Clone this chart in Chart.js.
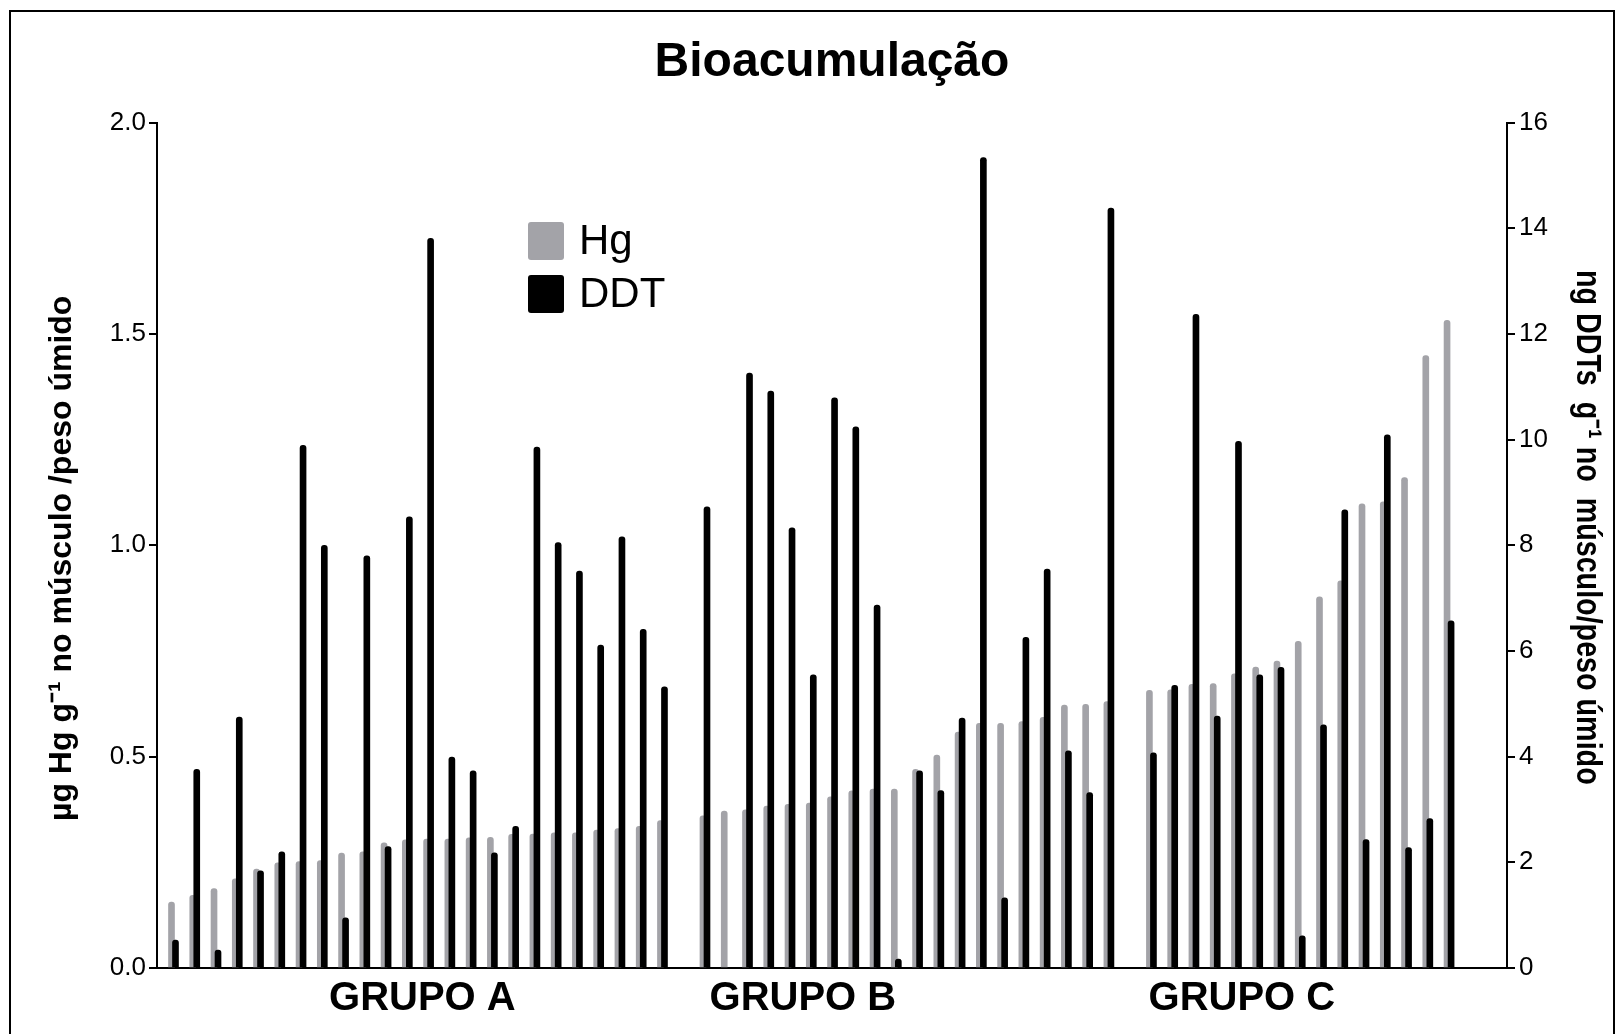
<!DOCTYPE html>
<html>
<head>
<meta charset="utf-8">
<script src="https://cdn.jsdelivr.net/npm/chart.js@4.4.1/dist/chart.umd.min.js"></script>
<style>
html, body { margin: 0; padding: 0; background: #ffffff; }
#wrap { width: 1616px; height: 1034px; position: relative; }
</style>
</head>
<body>
<div id="wrap"><canvas id="c" width="1616" height="1034"></canvas></div>
<script>
// ---------- data ----------
const chartTitle = 'Bioacumulação';
const seriesNames = ['Hg', 'DDT'];
const groupLabels = ['GRUPO A', 'GRUPO B', 'GRUPO C'];
const leftTicks = [0, 0.5, 1.0, 1.5, 2.0];
const rightTicks = [0, 2, 4, 6, 8, 10, 12, 14, 16];
const leftTitle = 'µg Hg g⁻¹ no músculo /peso úmido';
const rightTitle = 'ng DDTs  g⁻¹ no  músculo/peso úmido';

// Hg (µg/g, left axis)
const hgA = [0.156, 0.172, 0.188, 0.211, 0.234, 0.249, 0.252, 0.254, 0.272, 0.275, 0.296, 0.303,
             0.305, 0.305, 0.308, 0.309, 0.316, 0.317, 0.320, 0.320, 0.326, 0.330, 0.335, 0.349];
const hgB = [0.360, 0.371, 0.374, 0.383, 0.387, 0.390, 0.405, 0.419, 0.423, 0.423,
             0.470, 0.504, 0.558, 0.579, 0.579, 0.583, 0.593, 0.622, 0.624, 0.630];
const hgC = [0.657, 0.658, 0.671, 0.673, 0.696, 0.712, 0.726, 0.773, 0.878, 0.916,
             1.098, 1.103, 1.160, 1.449, 1.532];

// DDT (ng/g, right axis)
const ddtA = [0.53, 3.76, 0.34, 4.75, 1.84, 2.20, 9.89, 8.00, 0.95, 7.80, 2.30, 8.54,
              13.81, 3.99, 3.73, 2.18, 2.68, 9.86, 8.05, 7.51, 6.11, 8.16, 6.41, 5.32];
const ddtB = [8.73, null, 11.26, 10.92, 8.33, 5.55, 10.79, 10.24, 6.87, 0.17,
              3.73, 3.36, 4.73, 15.34, 1.33, 6.26, 7.55, 4.11, 3.32, 14.38];
const ddtC = [4.07, 5.35, 12.37, 4.77, 9.97, 5.55, 5.69, 0.61, 4.60, 8.67,
              2.43, 10.09, 2.28, 2.83, 6.57];

// ---------- build slot-indexed points (one empty slot between groups) ----------
const hgGroups = [hgA, hgB, hgC];
const ddtGroups = [ddtA, ddtB, ddtC];
const hgPts = [], ddtPts = [];
let slot = 0;
hgGroups.forEach((g, gi) => {
  g.forEach((v, k) => {
    hgPts.push({ x: slot, y: v });
    ddtPts.push({ x: slot, y: ddtGroups[gi][k] });
    slot++;
  });
  slot++;
});

const FONT = "'Liberation Sans', Arial, Helvetica, sans-serif";
Chart.defaults.font.family = FONT;
Chart.defaults.color = '#000';

const decor = {
  id: 'decor',
  beforeDraw(chart) {
    const ctx = chart.ctx;
    ctx.save();
    ctx.fillStyle = '#ffffff';
    ctx.fillRect(0, 0, chart.width, chart.height);
    ctx.strokeStyle = '#000';
    ctx.lineWidth = 2;
    ctx.beginPath();
    ctx.moveTo(10, chart.height + 2);
    ctx.lineTo(10, 11);
    ctx.lineTo(1614, 11);
    ctx.lineTo(1614, chart.height + 2);
    ctx.stroke();
    ctx.restore();
  },
  afterDraw(chart) {
    const ctx = chart.ctx;
    const area = chart.chartArea;
    const midY = (area.top + area.bottom) / 2;
    ctx.save();
    // legend
    const items = [chart.data.datasets[0], chart.data.datasets[1]];
    items.forEach((ds, i) => {
      const y = 222 + i * 53;
      ctx.fillStyle = ds.backgroundColor;
      ctx.beginPath();
      ctx.roundRect(528, y, 36, 38, 3);
      ctx.fill();
      ctx.fillStyle = '#000';
      ctx.font = '42px ' + FONT;
      ctx.textBaseline = 'middle';
      ctx.textAlign = 'left';
      ctx.fillText(ds.label, 579, y + 20);
    });
    ctx.restore();

    // left axis title (bold, reading bottom to top)
    ctx.save();
    ctx.translate(chart.scales.y.left + 62, midY + 13);
    ctx.rotate(-Math.PI / 2);
    ctx.font = 'bold 32px ' + FONT;
    ctx.textAlign = 'center';
    ctx.textBaseline = 'middle';
    ctx.fillStyle = '#000';
    ctx.fillText(leftTitle, 0, 0);
    ctx.restore();

    // right axis title (condensed bold, reading top to bottom)
    ctx.save();
    ctx.translate(chart.scales.y2.right - 29, midY - 18);
    ctx.rotate(Math.PI / 2);
    ctx.scale(0.82, 1);
    ctx.font = 'bold 35px ' + FONT;
    ctx.textAlign = 'center';
    ctx.textBaseline = 'middle';
    ctx.fillStyle = '#000';
    ctx.fillText(rightTitle, 0, 0);
    ctx.restore();
  }
};

new Chart(document.getElementById('c'), {
  type: 'bar',
  data: {
    datasets: [
      {
        label: seriesNames[0], data: hgPts,
        backgroundColor: '#a3a3a8',
        xAxisID: 'x', yAxisID: 'y',
        barThickness: 6, grouped: false, order: 1,
        borderRadius: { topLeft: 3, topRight: 3, bottomLeft: 0, bottomRight: 0 },
        borderSkipped: 'bottom'
      },
      {
        label: seriesNames[1], data: ddtPts,
        backgroundColor: '#000000',
        xAxisID: 'x2', yAxisID: 'y2',
        barThickness: 6, grouped: false, order: 0,
        borderRadius: { topLeft: 3, topRight: 3, bottomLeft: 0, bottomRight: 0 },
        borderSkipped: 'bottom'
      }
    ]
  },
  options: {
    responsive: false,
    animation: false,
    devicePixelRatio: 1,
    layout: { padding: 0 },
    plugins: {
      legend: { display: false },
      tooltip: { enabled: false },
      title: {
        display: true, text: chartTitle, fullSize: false, color: '#000',
        font: { size: 48, weight: 'bold', family: FONT },
        padding: { top: 34, bottom: 31 }
      }
    },
    scales: {
      x: {
        type: 'linear', position: 'bottom', offset: false,
        min: -0.682, max: 62.82,
        grid: { display: false, drawTicks: false, offset: false },
        border: { display: true, color: '#000', width: 2 },
        ticks: {
          autoSkip: false, maxRotation: 0, minRotation: 0, padding: 7, color: '#000',
          font: { size: 40, weight: 'bold', family: FONT },
          callback: (v, i) => groupLabels[i]
        },
        afterBuildTicks: s => { s.ticks = [11.8, 29.7, 50.35].map(v => ({ value: v })); },
        afterFit: s => { s.height = 66; }
      },
      x2: {
        type: 'linear', display: false, offset: false,
        grid: { offset: false },
        min: -0.870, max: 62.63
      },
      y: {
        position: 'left', min: 0, max: 2,
        grid: { drawOnChartArea: false, drawTicks: true, tickLength: 8, color: '#000', lineWidth: 2 },
        border: { display: true, color: '#000', width: 2 },
        ticks: {
          padding: 3, color: '#000', font: { size: 26, family: FONT },
          callback: v => Number(v).toFixed(1)
        },
        afterBuildTicks: s => { s.ticks = leftTicks.map(v => ({ value: v })); },
        afterFit: s => { s.width = 157; }
      },
      y2: {
        position: 'right', min: 0, max: 16,
        grid: { drawOnChartArea: false, drawTicks: true, tickLength: 8, color: '#000', lineWidth: 2 },
        border: { display: true, color: '#000', width: 2 },
        ticks: {
          padding: 4, color: '#000', font: { size: 26, family: FONT },
          callback: v => String(v)
        },
        afterBuildTicks: s => { s.ticks = rightTicks.map(v => ({ value: v })); },
        afterFit: s => { s.width = 109; }
      }
    }
  },
  plugins: [decor]
});
</script>
</body>
</html>
